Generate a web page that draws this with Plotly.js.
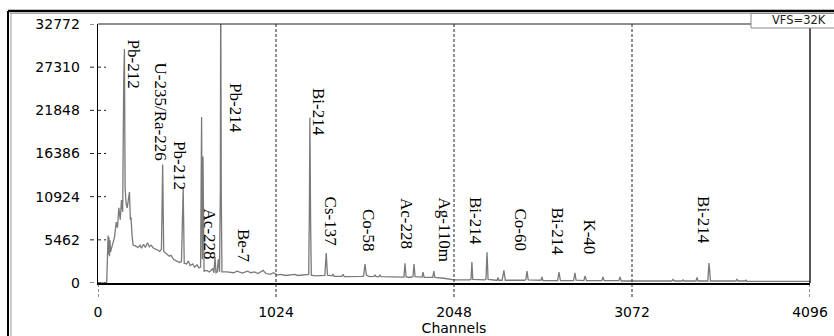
<!DOCTYPE html>
<html>
<head>
<meta charset="utf-8">
<script src="https://cdn.plot.ly/plotly-3.0.1.min.js"></script>
<style>html,body{margin:0;padding:0;background:#fff;}#chart{width:834px;height:336px;}</style>
</head>
<body>
<div id="chart"></div>
<script>
// ---- data ----
const channels = [0,50,55,58,60,63,66,69,72,85,95,105,112,120,128,135,142,148,152,156,162,168,174,181,186,190,196,202,215,230,242,250,262,272,285,295,305,320,340,355,365,372,378,395,410,420,435,450,470,480,490,496,510,520,530,545,555,570,580,590,593,596,600,604,610,625,640,660,667,673,679,686,692,699,704,706,709,713,740,780,800,830,860,880,900,920,950,965,990,1010,1030,1050,1080,1100,1130,1150,1180,1205,1212,1216,1219,1223,1227,1250,1280,1305,1313,1320,1345,1352,1358,1403,1410,1417,1520,1528,1536,1544,1560,1588,1594,1600,1616,1622,1628,1700,1760,1766,1772,1790,1812,1818,1824,1864,1870,1876,1926,1932,1938,1990,2048,2140,2146,2151,2156,2225,2232,2238,2244,2290,2296,2301,2306,2325,2335,2343,2455,2462,2468,2475,2548,2554,2560,2644,2652,2660,2736,2744,2750,2795,2802,2810,2898,2905,2912,2996,3003,3010,3300,3308,3316,3360,3366,3372,3440,3446,3452,3508,3512,3515,3519,3523,3670,3676,3682,3722,3728,3734,4096];
const counts   = [0,0,3800,6000,3600,5800,3400,5400,3900,4800,5800,7700,7000,9500,8000,10500,9000,25500,29600,12000,10000,9500,10500,11500,8000,8300,6000,4800,4700,4500,4800,4400,4900,4500,5100,4600,4800,4400,4200,4000,4300,15000,4000,3700,3400,3500,3000,2800,2600,2700,12000,2500,2400,2800,2200,2400,2000,2300,1900,2000,9000,21000,3000,16000,1500,1600,1400,1800,1300,3300,1300,1400,3000,1400,12000,40000,12000,1400,1400,1300,1500,1250,1500,1300,1400,1200,1600,1200,1100,1300,1000,1100,950,1000,1100,950,1000,1100,1100,9000,20900,8000,1000,900,950,950,3800,1000,900,1140,850,850,1100,800,850,900,2400,1000,800,850,1000,800,800,1050,800,750,750,2500,800,700,800,2400,800,750,1390,700,700,1520,700,600,400,400,500,2650,450,400,500,3900,450,350,350,700,350,350,1600,350,350,450,1500,400,350,760,300,300,1390,300,300,1270,350,300,890,300,300,760,300,300,760,250,250,440,250,250,380,250,250,700,250,250,1500,2530,1500,250,250,500,250,250,350,200,200];

const yTicks = [0,5462,10924,16386,21848,27310,32772];
const xTicks = [0,1024,2048,3072,4096];

const peakLabels   = ["Pb-212","U-235/Ra-226","Pb-212","Pb-214","Ac-228","Be-7","Bi-214","Cs-137","Co-58","Ac-228","Ag-110m","Bi-214","Co-60","Bi-214","K-40","Bi-214"];
const labelChannel = [201,357,472,794,644,837,1269,1343,1559,1778,1991,2175,2431,2649,2828,3483];
const labelCount   = [27640,21695,14927,22138,6135,4617,21695,7717,6705,7590,6768,7843,6705,6452,5819,7906];

// ---- layout geometry ----
const W=834,H=336,L=98,R=24,T=24,B=53;
const pw=W-L-R, ph=H-T-B;
const px = p => (p-L)/pw;
const py = p => (H-B-p)/ph;

const shapes = [];
// outer frame
shapes.push({type:'line',xref:'paper',yref:'paper',x0:px(8),x1:px(834),y0:py(11),y1:py(11),line:{color:'#000',width:2.5}});
shapes.push({type:'line',xref:'paper',yref:'paper',x0:px(10),x1:px(834),y0:py(13.5),y1:py(13.5),line:{color:'#aaa',width:1}});
shapes.push({type:'line',xref:'paper',yref:'paper',x0:px(8),x1:px(8),y0:py(11),y1:py(340),line:{color:'#000',width:2}});
shapes.push({type:'line',xref:'paper',yref:'paper',x0:px(11),x1:px(11),y0:py(13),y1:py(340),line:{color:'#999',width:1}});
// plot top and right borders
shapes.push({type:'line',xref:'paper',yref:'paper',x0:0,x1:px(751),y0:1,y1:1,line:{color:'#222',width:1.2}});
shapes.push({type:'line',xref:'paper',yref:'paper',x0:1,x1:1,y0:0,y1:py(28),line:{color:'#000',width:1.3}});
// VFS box
shapes.push({type:'rect',xref:'paper',yref:'paper',x0:px(751),x1:px(836),y0:py(28),y1:py(13.5),line:{color:'#888',width:1},fillcolor:'#fff'});
// dashed vertical gridlines + stubs
xTicks.forEach(v=>{
  const inner = (v>0 && v<4096);
  shapes.push({type:'line',xref:'x',yref:'paper',x0:v,x1:v,y0:py(297),y1:inner?1:0,line:{color:'#222',width:1,dash:'3px,2px'}});
});
// y tick stubs
yTicks.forEach(v=>{
  shapes.push({type:'line',xref:'paper',yref:'y',x0:px(90),x1:px(v===32772?97:106),y0:v,y1:v,line:{color:'#222',width:1,dash:'4px,3px'}});
});

const annotations = peakLabels.map((t,i)=>({
  x:labelChannel[i], y:labelCount[i], xref:'x', yref:'y', text:t, showarrow:false,
  textangle:90, xanchor:'center', yanchor:'middle',
  font:{family:'Liberation Serif, Times New Roman, serif', size:17, color:'#000'}
}));
annotations.push({xref:'paper',yref:'paper',x:px(828),y:py(20.5),xanchor:'right',yanchor:'middle',text:'VFS=32K',showarrow:false,
  font:{family:'DejaVu Sans, Arial, sans-serif',size:11.5,color:'#222'}});

const trace = {x:channels, y:counts, type:'scatter', mode:'lines',
  line:{color:'#7a7a7a', width:1.3}, hoverinfo:'skip'};

const layout = {
  width:W, height:H,
  margin:{l:L, r:R, t:T, b:B, pad:0},
  paper_bgcolor:'#fff', plot_bgcolor:'#fff',
  showlegend:false,
  font:{family:'DejaVu Sans, Arial, sans-serif', size:14, color:'#000'},
  xaxis:{range:[0,4096], tickvals:xTicks, ticktext:xTicks.map(String), showgrid:false, zeroline:false,
    showline:true, linecolor:'#000', linewidth:1.5, ticks:'', ticklabelstandoff:16,
    tickfont:{family:'DejaVu Sans, Arial, sans-serif', size:14, color:'#000'},
    title:{text:'Channels', standoff:2, font:{family:'DejaVu Sans, Arial, sans-serif', size:14, color:'#000'}}},
  yaxis:{range:[0,32772], tickvals:yTicks, ticktext:yTicks.map(String), showgrid:false, zeroline:false,
    showline:true, linecolor:'#000', linewidth:1.3, ticks:'', ticklabelstandoff:14,
    tickfont:{family:'DejaVu Sans, Arial, sans-serif', size:14, color:'#000'}},
  shapes:shapes, annotations:annotations
};
Plotly.newPlot('chart',[trace],layout,{staticPlot:true, displayModeBar:false});
</script>
</body>
</html>
